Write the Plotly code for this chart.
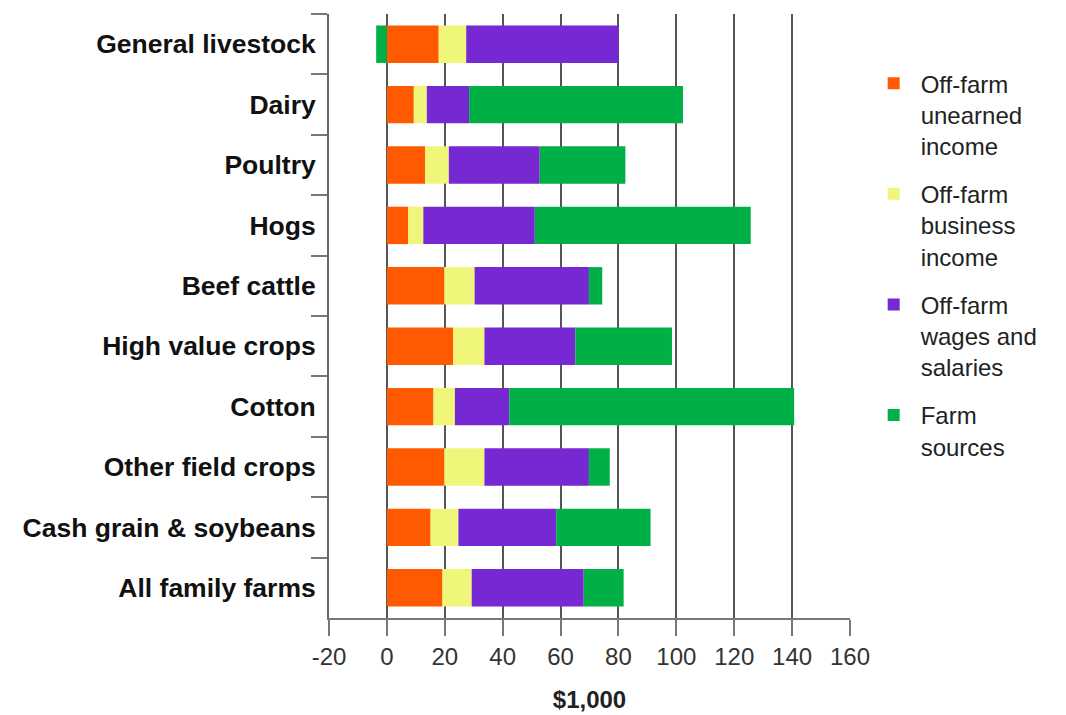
import plotly.graph_objects as go

categories = ["General livestock", "Dairy", "Poultry", "Hogs", "Beef cattle",
              "High value crops", "Cotton", "Other field crops",
              "Cash grain & soybeans", "All family farms"]

series_names = ["Off-farm<br>unearned<br>income",
                "Off-farm<br>business<br>income",
                "Off-farm<br>wages and<br>salaries",
                "Farm<br>sources"]

unearned = [17.9, 9.3, 13.2, 7.4, 19.8, 22.9, 16.1, 19.8, 15.1, 19.2]
business = [9.5, 4.5, 8.2, 5.2, 10.5, 10.8, 7.4, 13.9, 9.6, 10.1]
wages = [52.6, 14.6, 31.4, 38.5, 39.5, 31.4, 18.8, 36.1, 33.8, 38.7]
farm = [-3.7, 73.9, 29.6, 74.6, 4.6, 33.4, 98.4, 7.2, 32.6, 13.8]

x_ticks = [-20, 0, 20, 40, 60, 80, 100, 120, 140, 160]
x_title = "$1,000"

colors = ["#FF5A00", "#EFF67A", "#7628D2", "#00AF45"]

FONT = "Liberation Sans, Arial, sans-serif"

fig = go.Figure()
for i, (name, vals) in enumerate(zip(series_names, [unearned, business, wages, farm])):
    fig.add_trace(go.Bar(
        y=categories, x=vals, name=name, orientation="h",
        marker=dict(color=colors[i], line=dict(width=0)),
        legendgroup="g%d" % i,
    ))

fig.update_layout(
    width=1066, height=715,
    margin=dict(l=329, r=216, t=14, b=97),
    barmode="relative",
    bargap=0.38,
    plot_bgcolor="white",
    paper_bgcolor="white",
    font=dict(family=FONT, size=24, color="#222"),
    legend=dict(
        x=1.032, xanchor="left", y=0.922, yanchor="top",
        font=dict(family=FONT, size=24, color="#222"),
        valign="top", itemwidth=44, tracegroupgap=14,
        bgcolor="rgba(0,0,0,0)", traceorder="grouped",
    ),
    xaxis=dict(
        range=[-20, 160], tickvals=x_ticks, ticktext=[str(v) for v in x_ticks],
        showgrid=True, gridcolor="#555", gridwidth=2, zeroline=False,
        ticks="outside", ticklen=16, tickwidth=2, tickcolor="#777",
        showline=True, linecolor="#777", linewidth=2,
        automargin=False,
        tickfont=dict(family=FONT, size=24, color="#333"),
        title=dict(text=x_title, font=dict(family=FONT, size=24, color="#222", weight="bold"), standoff=22),
    ),
    yaxis=dict(
        type="category", categoryorder="array", categoryarray=categories,
        autorange="reversed",
        showgrid=False, zeroline=False,
        showline=True, linecolor="#666", linewidth=2,
        ticks="outside", tickson="boundaries", ticklen=16, tickwidth=2, tickcolor="#777",
        ticklabelstandoff=6, automargin=False,
        tickfont=dict(family=FONT, size=26.5, color="#111", weight="bold"),
    ),
)

fig.write_html("out.html", config={"displayModeBar": False},
               post_script="document.body.style.margin='0';")
